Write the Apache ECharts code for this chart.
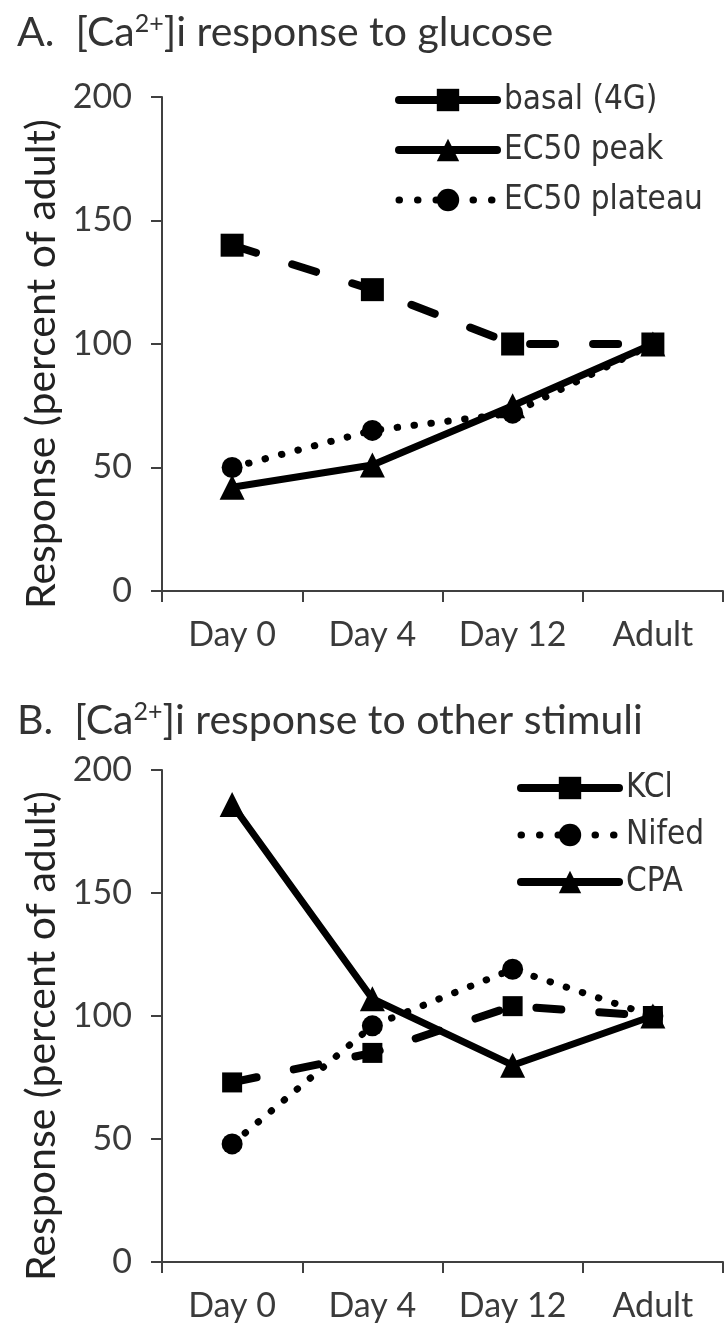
<!DOCTYPE html>
<html>
<head>
<meta charset="utf-8">
<script src="https://cdn.jsdelivr.net/npm/echarts@6/dist/echarts.min.js"></script>
<style>
html,body{margin:0;padding:0;background:#fff;}
#chart{width:726px;height:1327px;}
</style>
</head>
<body>
<div id="chart"></div>
<script>
// ---- data ----
const categories = ['Day 0', 'Day 4', 'Day 12', 'Adult'];
const yMin = 0, yMax = 200, yStep = 50;

// Panel A: [Ca2+]i response to glucose
const basal4G = [140, 122, 100, 100];
const ec50Peak = [42, 51, 75, 100];
const ec50Plateau = [50, 65, 72, 100];

// Panel B: [Ca2+]i response to other stimuli
const kcl = [73, 85, 104, 100];
const nifed = [48, 96, 119, 100];
const cpa = [186, 107, 80, 100];

const yAxisName = 'Response (percent of adult)';

// ---- styles ----
const FONT = 'Lato, "Open Sans", sans-serif';
const LEGEND_FONT = '"DejaVu Sans Condensed", "DejaVu Sans", sans-serif';
const AX = '#404040';
const TXT = '#3a3a3a';

const dashed = { color: '#000', width: 8, type: [25, 38], cap: 'round' };
const solid = { color: '#000', width: 7, type: 'solid' };
const dotted = { color: '#000', width: 7, type: [0.5, 16.5], cap: 'round' };

const legDashed = { color: '#000', width: 8, type: 'solid', cap: 'round' };
const legSolid = { color: '#000', width: 8, type: 'solid', cap: 'round' };
const legDotted = { color: '#000', width: 7, type: [0.5, 18], cap: 'round' };

function xAxis(gridIndex) {
  return {
    type: 'category', gridIndex, data: categories, boundaryGap: true,
    axisLine: { lineStyle: { color: AX, width: 2 } },
    axisTick: { show: true, interval: 0, length: 11, lineStyle: { color: AX, width: 2 } },
    axisLabel: { interval: 0, color: TXT, fontFamily: FONT, fontSize: 34, margin: 27 }
  };
}
function yAxis(gridIndex) {
  return {
    type: 'value', gridIndex, min: yMin, max: yMax, interval: yStep,
    splitLine: { show: false },
    axisLine: { show: true, lineStyle: { color: AX, width: 2 } },
    axisTick: { show: true, length: 11, lineStyle: { color: AX, width: 2 } },
    axisLabel: { color: TXT, fontFamily: FONT, fontSize: 34, margin: 30 },
    name: yAxisName, nameLocation: 'middle', nameGap: 100, nameRotate: 90,
    nameTextStyle: { color: '#222', fontFamily: FONT, fontSize: 41, padding: [0, 40, 0, 0] }
  };
}
function line(name, data, idx, lineStyle, symbol, symbolSize, z) {
  return {
    type: 'line', name, data, xAxisIndex: idx, yAxisIndex: idx,
    symbol, symbolSize, showSymbol: true, lineStyle,
    itemStyle: { color: '#000', borderWidth: 0 }, z: z || 2,
    emphasis: { disabled: true }, animation: false
  };
}
const titleRich = { sup: { fontFamily: FONT, fontSize: 25, color: '#333', verticalAlign: 'top', padding: [0, 0, 18, 0] } };
const legendBase = {
  orient: 'vertical', itemWidth: 98, itemHeight: 28,
  textStyle: { color: '#333', fontFamily: LEGEND_FONT, fontSize: 33, lineHeight: 34, padding: [0, 0, 0, 2] }
};

const chart = echarts.init(document.getElementById('chart'), null, { renderer: 'canvas' });
chart.setOption({
  animation: false,
  backgroundColor: '#fff',
  title: [
    { text: 'A.  [Ca{sup|2+}]i response to glucose', left: 12, top: 6,
      textStyle: { color: '#333', fontFamily: FONT, fontSize: 41, fontWeight: 'normal', rich: titleRich } },
    { text: 'B.  [Ca{sup|2+}]i response to other stimuli', left: 12, top: 694,
      textStyle: { color: '#333', fontFamily: FONT, fontSize: 41, fontWeight: 'normal', rich: titleRich } }
  ],
  legend: [
    Object.assign({}, legendBase, { left: 390, top: 78, itemGap: 16, data: [
      { name: 'basal (4G)', lineStyle: legDashed },
      { name: 'EC50 peak', lineStyle: legSolid },
      { name: 'EC50 plateau', lineStyle: legDotted }
    ] }),
    Object.assign({}, legendBase, { left: 512, top: 766, itemGap: 13, data: [
      { name: 'KCl', lineStyle: legDashed },
      { name: 'Nifed', lineStyle: legDotted },
      { name: 'CPA', lineStyle: legSolid }
    ] })
  ],
  grid: [
    { left: 162, right: 3, top: 97, height: 494 },
    { left: 162, right: 3, top: 770, height: 492 }
  ],
  xAxis: [xAxis(0), xAxis(1)],
  yAxis: [yAxis(0), yAxis(1)],
  series: [
    line('basal (4G)', basal4G, 0, dashed, 'rect', 23, 3),
    line('EC50 peak', ec50Peak, 0, solid, 'triangle', 25, 3),
    line('EC50 plateau', ec50Plateau, 0, dotted, 'circle', 21, 2),
    line('KCl', kcl, 1, dashed, 'rect', 20, 3),
    line('Nifed', nifed, 1, dotted, 'circle', 21, 2),
    line('CPA', cpa, 1, solid, 'triangle', 25, 3)
  ]
});
</script>
</body>
</html>
